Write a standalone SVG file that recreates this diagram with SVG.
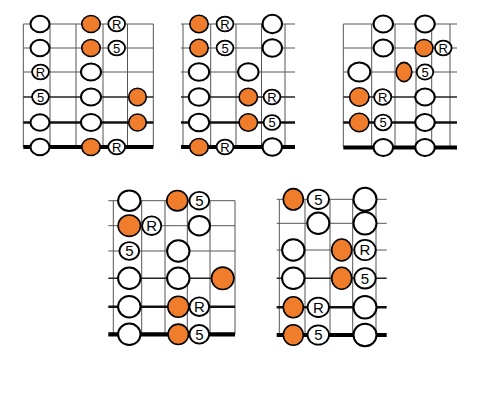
<svg xmlns="http://www.w3.org/2000/svg" width="496" height="405" viewBox="0 0 496 405">
<style>
.bg{fill:#ffffff}
.s1{stroke:#555;stroke-width:1;fill:none}
.s4{stroke:#222;stroke-width:1.4;fill:none}
.s5{stroke:#111;stroke-width:2.6;fill:none}
.s6{stroke:#000;stroke-width:4.2;fill:none}
.fr{stroke:#555;stroke-width:1;fill:none}
.o{fill:#ffffff;stroke:#000;stroke-width:2}
.f{fill:#F07D2C;stroke:#000;stroke-width:1.6}
.l{fill:#ffffff;stroke:#000;stroke-width:1.8}
.t{font-family:"Liberation Sans",Arial,sans-serif;font-size:13px;fill:#000;text-anchor:middle}
.tb{font-family:"Liberation Sans",Arial,sans-serif;font-size:15px;fill:#000;text-anchor:middle}
</style>
<rect class="bg" x="0" y="0" width="496" height="405"/>

<!-- Diagram 1 -->
<g id="diagram1">
  <g id="d1-grid">
    <path class="fr" d="M23.3,24V147M50,24V147M76,24V147M103,24V147M127.5,24V147M153.3,24V147"/>
    <path class="s1" d="M23.3,24H153.3M23.3,48H153.3M23.3,72H153.3"/>
    <path class="s4" d="M23.3,97H153.3"/>
    <path class="s5" d="M23.3,122.5H153.3"/>
    <path class="s6" d="M23.3,147H153.3"/>
  </g>
  <g id="d1-dots">
    <ellipse class="o" cx="40" cy="24" rx="9.5" ry="8.3"/>
    <ellipse class="f" cx="91" cy="24" rx="9.2" ry="8.5"/>
    <g id="d1-r1"><ellipse class="l" cx="116.7" cy="24" rx="8.4" ry="7.4"/><text class="t" x="116.7" y="28.7">R</text></g>
    <ellipse class="o" cx="40" cy="48" rx="9.5" ry="8.3"/>
    <ellipse class="f" cx="91" cy="48" rx="9.2" ry="8.5"/>
    <g id="d1-52"><ellipse class="l" cx="116.7" cy="48" rx="8.4" ry="7.4"/><text class="t" x="116.7" y="52.7">5</text></g>
    <g id="d1-r3"><ellipse class="l" cx="40.5" cy="72" rx="8.4" ry="7.4"/><text class="t" x="40.5" y="76.7">R</text></g>
    <ellipse class="o" cx="91" cy="72" rx="10" ry="8.4"/>
    <g id="d1-54"><ellipse class="l" cx="40.5" cy="97" rx="8.4" ry="7.4"/><text class="t" x="40.5" y="101.7">5</text></g>
    <ellipse class="o" cx="91" cy="97" rx="10" ry="8.4"/>
    <ellipse class="f" cx="137.5" cy="97" rx="8.8" ry="8.8"/>
    <ellipse class="o" cx="40" cy="122.5" rx="9.5" ry="8.3"/>
    <ellipse class="o" cx="91" cy="122.5" rx="10" ry="8.4"/>
    <ellipse class="f" cx="137.5" cy="122.5" rx="8.8" ry="8.5"/>
    <ellipse class="o" cx="40" cy="147" rx="9.5" ry="8.3"/>
    <ellipse class="f" cx="91" cy="147" rx="9.2" ry="8.5"/>
    <g id="d1-r6"><ellipse class="l" cx="116.7" cy="147" rx="8.4" ry="7.4"/><text class="t" x="116.7" y="151.7">R</text></g>
  </g>
</g>

<!-- Diagram 2 -->
<g id="diagram2">
  <g id="d2-grid">
    <path class="fr" d="M183,24V147M210.7,24V147M236,24V147M261.5,24V147M285,24V147"/>
    <path class="s1" d="M181,24H295M181,48H295M181,72H295"/>
    <path class="s4" d="M181,97H295"/>
    <path class="s5" d="M181,122.5H295"/>
    <path class="s6" d="M181,147H295"/>
  </g>
  <g id="d2-dots">
    <ellipse class="f" cx="199" cy="24" rx="9.2" ry="8.7"/>
    <g id="d2-r1"><ellipse class="l" cx="225" cy="24" rx="8.4" ry="7.4"/><text class="t" x="225" y="28.7">R</text></g>
    <ellipse class="o" cx="272.3" cy="24" rx="9.7" ry="9.2"/>
    <ellipse class="f" cx="199" cy="48" rx="9.2" ry="8.7"/>
    <g id="d2-52"><ellipse class="l" cx="225" cy="48" rx="8.4" ry="7.4"/><text class="t" x="225" y="52.7">5</text></g>
    <ellipse class="o" cx="272.3" cy="48" rx="9.7" ry="8.7"/>
    <ellipse class="o" cx="199" cy="72" rx="10.2" ry="8.7"/>
    <ellipse class="o" cx="248.3" cy="72" rx="10.2" ry="8.7"/>
    <ellipse class="o" cx="199" cy="97" rx="10.2" ry="8.7"/>
    <ellipse class="f" cx="248.3" cy="97" rx="9.2" ry="8.7"/>
    <g id="d2-r4"><ellipse class="l" cx="272" cy="97" rx="8.4" ry="7.4"/><text class="t" x="272" y="101.7">R</text></g>
    <ellipse class="o" cx="199" cy="122.5" rx="10.2" ry="8.7"/>
    <ellipse class="f" cx="248.3" cy="122.5" rx="9.2" ry="8.7"/>
    <g id="d2-55"><ellipse class="l" cx="272" cy="122.5" rx="8.4" ry="7.4"/><text class="t" x="272" y="127.2">5</text></g>
    <ellipse class="f" cx="199" cy="147" rx="9.2" ry="8.5"/>
    <g id="d2-r6"><ellipse class="l" cx="225" cy="147" rx="8.4" ry="7.4"/><text class="t" x="225" y="151.7">R</text></g>
    <ellipse class="o" cx="272.3" cy="147" rx="9.7" ry="8.7"/>
  </g>
</g>

<!-- Diagram 3 -->
<g id="diagram3">
  <g id="d3-grid">
    <path class="fr" d="M343.3,24V147M371.7,24V147M395,24V147M416,24V147M431.7,24V147M450,24V147"/>
    <path class="s1" d="M343.3,24H457M343.3,48H457M343.3,72H457"/>
    <path class="s4" d="M343.3,97H457"/>
    <path class="s5" d="M343.3,122.5H457"/>
    <path class="s6" d="M343.3,147.5H457"/>
  </g>
  <g id="d3-dots">
    <ellipse class="o" cx="383.3" cy="24" rx="9.7" ry="8.5"/>
    <ellipse class="o" cx="425" cy="24" rx="9.7" ry="8.5"/>
    <ellipse class="o" cx="383.3" cy="48" rx="9.7" ry="8.5"/>
    <ellipse class="f" cx="424" cy="48" rx="9" ry="8.5"/>
    <g id="d3-r2"><ellipse class="l" cx="443.3" cy="48" rx="8.3" ry="7.4"/><text class="t" x="443.3" y="52.7">R</text></g>
    <ellipse class="o" cx="359.3" cy="72" rx="11" ry="9.5"/>
    <ellipse class="f" cx="404" cy="72" rx="7.8" ry="9.6"/>
    <g id="d3-53"><ellipse class="l" cx="425" cy="72" rx="8.3" ry="7.6"/><text class="t" x="425" y="76.7">5</text></g>
    <ellipse class="f" cx="359.3" cy="97" rx="9.7" ry="9.2"/>
    <g id="d3-r4"><ellipse class="l" cx="382.7" cy="97" rx="8.6" ry="7.8"/><text class="t" x="382.7" y="101.7">R</text></g>
    <ellipse class="o" cx="425" cy="97" rx="9.7" ry="8.5"/>
    <ellipse class="f" cx="359.3" cy="122.5" rx="9.7" ry="9.2"/>
    <g id="d3-55"><ellipse class="l" cx="383" cy="122.5" rx="8.6" ry="7.8"/><text class="t" x="383" y="127.2">5</text></g>
    <ellipse class="o" cx="425" cy="122.5" rx="9.7" ry="8.5"/>
    <ellipse class="o" cx="383.3" cy="147.5" rx="9.7" ry="8.5"/>
    <ellipse class="o" cx="425" cy="147.5" rx="9.7" ry="8.5"/>
  </g>
</g>

<!-- Diagram 4 -->
<g id="diagram4">
  <g id="d4-grid">
    <path class="fr" d="M113.3,200.7V334.3M141.7,200.7V334.3M165,200.7V334.3M187.3,200.7V334.3M210,200.7V334.3M235,200.7V334.3"/>
    <path class="s1" d="M108.3,200.7H235M108.3,225.7H235M108.3,251H235"/>
    <path class="s4" d="M108.3,278.3H235"/>
    <path class="s5" d="M108.3,306.7H235"/>
    <path class="s6" d="M108.3,334.3H235"/>
  </g>
  <g id="d4-dots">
    <ellipse class="o" cx="129.3" cy="200.7" rx="11.2" ry="10.2"/>
    <ellipse class="f" cx="177.3" cy="200.7" rx="10.5" ry="10.2"/>
    <g id="d4-51"><ellipse class="l" cx="199.3" cy="200.7" rx="9.8" ry="8.8"/><text class="tb" x="199.3" y="206">5</text></g>
    <ellipse class="f" cx="129.3" cy="225.7" rx="11.2" ry="10.7"/>
    <g id="d4-r2"><ellipse class="l" cx="151.7" cy="225.7" rx="9.6" ry="9.3"/><text class="tb" x="151.7" y="231">R</text></g>
    <ellipse class="o" cx="199.3" cy="225.7" rx="10.7" ry="9.7"/>
    <g id="d4-53"><ellipse class="l" cx="129.3" cy="251" rx="9.8" ry="8.8"/><text class="tb" x="129.3" y="256.3">5</text></g>
    <ellipse class="o" cx="178.3" cy="251" rx="11.2" ry="10.7"/>
    <ellipse class="o" cx="129.3" cy="278.3" rx="11.2" ry="10.7"/>
    <ellipse class="o" cx="178.3" cy="278.3" rx="11.2" ry="10.7"/>
    <ellipse class="f" cx="222.7" cy="278.3" rx="11.2" ry="11.2"/>
    <ellipse class="o" cx="129.3" cy="306.7" rx="11.2" ry="10.7"/>
    <ellipse class="f" cx="178.3" cy="306.7" rx="10.5" ry="10.5"/>
    <g id="d4-r5"><ellipse class="l" cx="199.3" cy="306.7" rx="9.8" ry="9.3"/><text class="tb" x="199.3" y="312">R</text></g>
    <ellipse class="o" cx="129.3" cy="334.3" rx="11.2" ry="10.7"/>
    <ellipse class="f" cx="178.3" cy="334.3" rx="10.2" ry="10.2"/>
    <g id="d4-56"><ellipse class="l" cx="199.3" cy="334.3" rx="9.8" ry="9.3"/><text class="tb" x="199.3" y="339.6">5</text></g>
  </g>
</g>

<!-- Diagram 5 -->
<g id="diagram5">
  <g id="d5-grid">
    <path class="fr" d="M279.3,199.3V335M305,199.3V335M330,199.3V335M352.7,199.3V335M376,199.3V335"/>
    <path class="s1" d="M276.7,199.3H386.7M276.7,223.3H386.7M276.7,250H386.7"/>
    <path class="s4" d="M276.7,278.3H386.7"/>
    <path class="s5" d="M276.7,307.3H386.7"/>
    <path class="s6" d="M276.7,335H386.7"/>
  </g>
  <g id="d5-dots">
    <ellipse class="f" cx="293.3" cy="199.3" rx="10" ry="10.7"/>
    <g id="d5-51"><ellipse class="l" cx="318.3" cy="199.3" rx="10.7" ry="9.7"/><text class="tb" x="318.3" y="204.6">5</text></g>
    <ellipse class="o" cx="365" cy="199.3" rx="11.5" ry="11.5"/>
    <ellipse class="o" cx="318.3" cy="223.3" rx="11" ry="10.7"/>
    <ellipse class="o" cx="365" cy="223.3" rx="11.5" ry="11.2"/>
    <ellipse class="o" cx="293.3" cy="250" rx="11.2" ry="10.7"/>
    <ellipse class="f" cx="341.7" cy="250" rx="10" ry="11"/>
    <g id="d5-r3"><ellipse class="l" cx="365" cy="250" rx="10.7" ry="10.2"/><text class="tb" x="365" y="255.3">R</text></g>
    <ellipse class="o" cx="293.3" cy="278.3" rx="11.2" ry="10.7"/>
    <ellipse class="f" cx="341.7" cy="278.3" rx="10" ry="11"/>
    <g id="d5-54"><ellipse class="l" cx="365" cy="278.3" rx="10.7" ry="10.2"/><text class="tb" x="365" y="283.6">5</text></g>
    <ellipse class="f" cx="293.3" cy="307.3" rx="10" ry="10.5"/>
    <g id="d5-r5"><ellipse class="l" cx="318.3" cy="307.3" rx="10.7" ry="9.7"/><text class="tb" x="318.3" y="312.6">R</text></g>
    <ellipse class="o" cx="365" cy="307.3" rx="11.5" ry="11.2"/>
    <ellipse class="f" cx="293.3" cy="335" rx="10" ry="10.2"/>
    <g id="d5-56"><ellipse class="l" cx="318.3" cy="335" rx="10.7" ry="9.7"/><text class="tb" x="318.3" y="340.3">5</text></g>
    <ellipse class="o" cx="365" cy="335" rx="11.5" ry="11.2"/>
  </g>
</g>
</svg>
